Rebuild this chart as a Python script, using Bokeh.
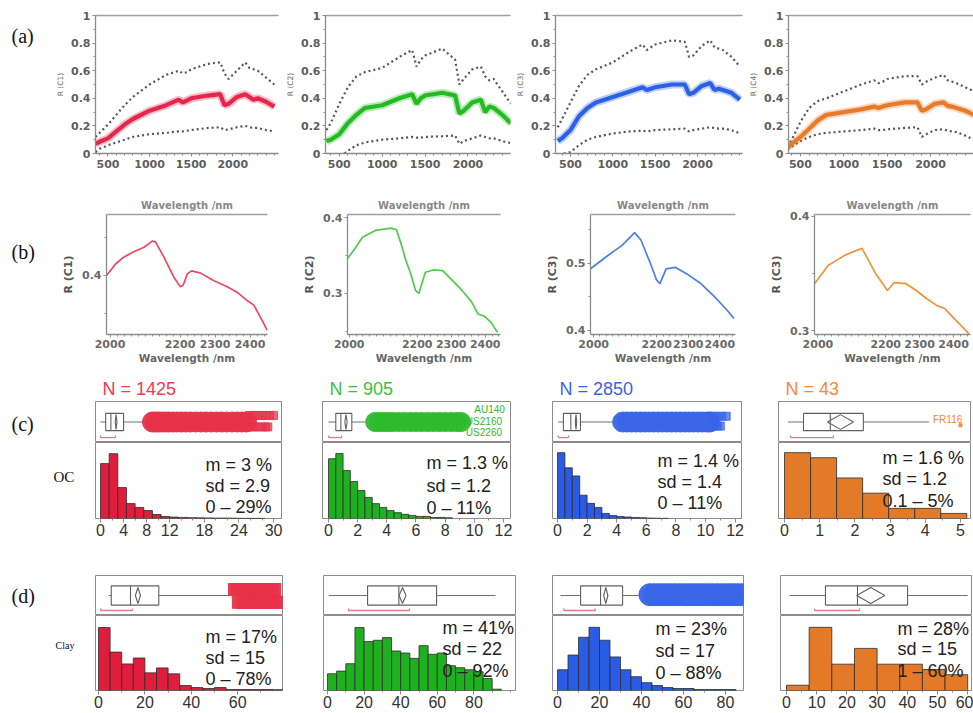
from bokeh.plotting import figure
from bokeh.layouts import row, column
from bokeh.models import Range1d, LinearAxis, FixedTicker
from bokeh.core.properties import value
from bokeh.embed import file_html
from bokeh.resources import INLINE

# ============================ DATA ============================
# (a) mean spectra (thick) with upper / lower envelopes (dotted)
wl = [350, 400, 500, 600, 700, 800, 1000, 1200, 1350, 1400, 1450, 1500, 1700, 1850,
      1900, 1950, 2050, 2150, 2200, 2250, 2300, 2400, 2500]
c1_mean = [0.07, 0.085, 0.11, 0.16, 0.21, 0.25, 0.31, 0.35, 0.39, 0.37, 0.385, 0.40, 0.42, 0.43,
           0.35, 0.36, 0.41, 0.43, 0.41, 0.39, 0.40, 0.375, 0.34]
c1_up = [0.12, 0.15, 0.21, 0.28, 0.35, 0.41, 0.50, 0.57, 0.60, 0.58, 0.59, 0.61, 0.65, 0.66,
         0.58, 0.54, 0.60, 0.66, 0.62, 0.61, 0.60, 0.55, 0.50]
c1_low = [0.01, 0.035, 0.06, 0.08, 0.10, 0.12, 0.14, 0.15, 0.16, 0.16, 0.165, 0.17, 0.185, 0.19,
          0.17, 0.175, 0.19, 0.20, 0.19, 0.185, 0.185, 0.17, 0.16]
c2_mean = [0.09, 0.10, 0.14, 0.22, 0.28, 0.33, 0.35, 0.40, 0.43, 0.36, 0.40, 0.42, 0.44, 0.42,
           0.29, 0.31, 0.37, 0.39, 0.30, 0.34, 0.33, 0.28, 0.22]
c2_up = [0.17, 0.22, 0.36, 0.48, 0.56, 0.59, 0.62, 0.70, 0.75, 0.63, 0.68, 0.71, 0.76, 0.68,
         0.50, 0.54, 0.61, 0.63, 0.56, 0.53, 0.54, 0.45, 0.36]
wl_c2_low = [560, 600, 700, 800, 1000, 1200, 1350, 1400, 1450, 1500, 1700, 1850, 1900, 1950,
             2050, 2150, 2200, 2250, 2300, 2400, 2500]
c2_low = [0.0, 0.02, 0.06, 0.08, 0.10, 0.11, 0.12, 0.115, 0.115, 0.12, 0.125, 0.13, 0.07, 0.09,
          0.11, 0.13, 0.12, 0.11, 0.11, 0.09, 0.075]
c3_mean = [0.09, 0.11, 0.17, 0.27, 0.33, 0.37, 0.41, 0.45, 0.48, 0.46, 0.47, 0.48, 0.50, 0.50,
           0.43, 0.44, 0.49, 0.51, 0.46, 0.47, 0.46, 0.44, 0.39]
c3_up = [0.19, 0.25, 0.37, 0.49, 0.57, 0.61, 0.66, 0.74, 0.79, 0.75, 0.77, 0.79, 0.82, 0.81,
         0.70, 0.71, 0.78, 0.82, 0.77, 0.76, 0.75, 0.70, 0.63]
wl_c3_low = [420, 500, 600, 700, 800, 1000, 1200, 1350, 1400, 1450, 1500, 1700, 1850, 1900,
             1950, 2050, 2150, 2200, 2250, 2300, 2400, 2500]
c3_low = [0.0, 0.01, 0.06, 0.10, 0.12, 0.145, 0.16, 0.165, 0.16, 0.165, 0.17, 0.175, 0.18, 0.16,
          0.17, 0.18, 0.19, 0.185, 0.18, 0.18, 0.17, 0.145]
c4_mean = [0.04, 0.07, 0.12, 0.18, 0.24, 0.28, 0.30, 0.32, 0.34, 0.33, 0.34, 0.35, 0.37, 0.37,
           0.31, 0.32, 0.36, 0.37, 0.345, 0.34, 0.33, 0.31, 0.28]
c4_up = [0.05, 0.10, 0.23, 0.33, 0.38, 0.40, 0.45, 0.50, 0.53, 0.51, 0.52, 0.54, 0.56, 0.56,
         0.50, 0.52, 0.55, 0.57, 0.53, 0.52, 0.51, 0.48, 0.45]
c4_low = [0.03, 0.05, 0.09, 0.12, 0.14, 0.15, 0.16, 0.17, 0.18, 0.17, 0.17, 0.175, 0.185, 0.19,
          0.12, 0.14, 0.17, 0.175, 0.165, 0.16, 0.155, 0.13, 0.10]
a_ylabels = ["R (C1)", "R (C2)", "R (C3)", "R (C4)"]
a_xticks = [500, 1000, 1500, 2000]
a_xminor = [400, 600, 700, 800, 900, 1100, 1200, 1300, 1400, 1600, 1700, 1800, 1900,
            2100, 2200, 2300, 2400, 2500]
a_yticks = [0, 0.2, 0.4, 0.6, 0.8, 1]
a_yminor = [0.1, 0.3, 0.5, 0.7, 0.9]

# (b) 1990-2450 nm detail
b1_wl = [1990, 2016, 2039, 2068, 2097, 2121, 2130, 2154, 2182, 2201, 2209, 2221, 2233, 2259,
         2297, 2335, 2363, 2392, 2411, 2430, 2449]
b1_r = [0.400, 0.415, 0.424, 0.431, 0.437, 0.445, 0.444, 0.424, 0.398, 0.385, 0.387, 0.402,
        0.406, 0.403, 0.393, 0.385, 0.378, 0.367, 0.361, 0.345, 0.328]
b2_wl = [1995, 2020, 2039, 2077, 2124, 2139, 2153, 2167, 2181, 2195, 2205, 2224, 2247, 2275,
         2304, 2332, 2360, 2379, 2398, 2417, 2436]
b2_r = [0.346, 0.361, 0.374, 0.383, 0.386, 0.384, 0.365, 0.343, 0.326, 0.304, 0.300, 0.328,
        0.331, 0.330, 0.317, 0.304, 0.289, 0.273, 0.270, 0.262, 0.249]
b3_wl = [1990, 2040, 2090, 2130, 2150, 2180, 2200, 2210, 2230, 2260, 2300, 2340, 2380, 2420, 2445]
b3_r = [0.492, 0.510, 0.527, 0.546, 0.535, 0.500, 0.475, 0.470, 0.492, 0.494, 0.483, 0.470,
        0.452, 0.432, 0.418]
b4_wl = [1990, 2030, 2080, 2130, 2170, 2205, 2225, 2260, 2290, 2320, 2350, 2375, 2400, 2430, 2445]
b4_r = [0.341, 0.357, 0.366, 0.372, 0.350, 0.335, 0.342, 0.341, 0.335, 0.328, 0.322, 0.319,
        0.311, 0.302, 0.297]
b_ylabels = ["R (C1)", "R (C2)", "R (C3)", "R (C3)"]
b_xticks = [2000, 2200, 2300, 2400]
b_xminor = [2020, 2040, 2060, 2080, 2100, 2120, 2140, 2160, 2180, 2220, 2240, 2260, 2280,
            2320, 2340, 2360, 2380, 2420, 2440]
b_yticks = [[0.4], [0.3, 0.4], [0.4, 0.5], [0.3, 0.4]]
b_yminor = [[0.35, 0.45], [0.25, 0.35], [0.45, 0.55], [0.35]]

# (c) OC (%) distributions
oc_N = ["N = 1425", "N = 905", "N = 2850", "N = 43"]
oc_bin_width = [1.5, 0.5, 0.5, 0.74]
oc_counts_c1 = [398, 470, 224, 108, 80, 58, 29, 14, 10, 8, 6, 5, 4, 3, 3, 2, 1, 1, 1]
oc_counts_c2 = [173, 188, 139, 107, 81, 61, 43, 32, 23, 17, 12, 9, 6, 6, 3, 3, 2]
oc_counts_c3 = [842, 648, 544, 298, 194, 142, 65, 39, 26, 19, 13, 10, 5, 3, 2]
oc_counts_c4 = [13, 12, 8, 5, 2, 2, 1]
oc_stats = [["m = 3 %", "sd = 2.9", "0 – 29%"],
            ["m = 1.3 %", "sd = 1.2", "0 – 11%"],
            ["m = 1.4 %", "sd = 1.4", "0 – 11%"],
            ["m = 1.6 %", "sd = 1.2", "0.1 – 5%"]]
oc_wlo = [0, 0, 0.05, 0.1]
oc_q1 = [0.9, 0.5, 0.4, 0.54]
oc_med = [1.8, 0.85, 0.9, 1.3]
oc_q3 = [4.0, 1.6, 1.55, 2.24]
oc_whi = [8.1, 2.5, 3.7, 4.1]
oc_mean = [2.7, 1.2, 1.25, 1.59]
oc_ci = [0.15, 0.08, 0.05, 0.37]
oc_short_lo = [0, 0, 0.05, 0.17]
oc_short_hi = [2.6, 0.9, 0.75, 1.39]
oc_out_c1 = [9.0, 9.5, 10.0, 10.6, 11.2, 11.8, 12.5, 13.2, 14.0, 14.8, 15.6, 16.5, 17.4, 18.3,
             19.2, 20.1, 21.0, 21.9, 22.8, 23.7, 24.5, 25.3]
oc_out_c1_tail_hi = [25.8, 26.5, 27.2, 27.9, 28.6, 29.3, 30.0]
oc_out_c1_tail_lo = [25.8, 26.5, 27.2, 27.9, 28.6, 29.0]
oc_out_c2 = [3.2, 3.5, 3.8, 4.1, 4.4, 4.8, 5.2, 5.6, 6.0, 6.4, 6.8, 7.2, 7.6, 8.0, 8.4, 8.8, 9.1]
oc_out_c2_ids = ["AU140", "US2160", "US2260"]
oc_out_c3 = [4.4, 4.7, 5.0, 5.3, 5.6, 5.9, 6.2, 6.5, 6.8, 7.1, 7.4, 7.7, 8.0, 8.3, 8.6, 8.9,
             9.2, 9.5, 9.8, 10.1, 10.3]
oc_out_c3_tail_hi = [10.5, 10.8, 11.1, 11.4]
oc_out_c3_tail_lo = [10.5, 10.8, 11.0]
oc_out_c4_ids = ["FR116"]
oc_out_c4 = [5.0]
oc_ticks = [[0, 4, 8, 12, 18, 24, 30], [0, 2, 4, 6, 8, 10, 12], [0, 2, 4, 6, 8, 10, 12],
            [0, 1, 2, 3, 4, 5]]
oc_minor = [[2, 6, 10, 14, 16, 20, 22, 26, 28], [1, 3, 5, 7, 9, 11], [1, 3, 5, 7, 9, 11],
            [0.5, 1.5, 2.5, 3.5, 4.5]]

# (d) Clay (%) distributions
clay_bin_width = [5, 5, 5, 7.5]
clay_counts_c1 = [382, 233, 161, 197, 107, 137, 101, 30, 18, 12, 18, 6, 6, 6, 6, 5]
clay_counts_c2 = [25, 29, 40, 94, 73, 75, 79, 59, 56, 48, 67, 54, 56, 37, 34, 31, 28, 18, 2]
clay_counts_c3 = [188, 321, 482, 572, 455, 304, 188, 125, 71, 45, 27, 18, 18, 9, 9, 9, 9]
clay_counts_c4 = [1, 12, 5, 8, 5, 5, 4, 3]
clay_stats = [["m = 17%", "sd = 15", "0 – 78%"],
              ["m = 41%", "sd = 22", "0 – 92%"],
              ["m = 23%", "sd = 17", "0 – 88%"],
              ["m = 28%", "sd = 15", "1 – 60%"]]
clay_wlo = [4.4, 0.7, 1.4, 1.0]
clay_q1 = [5.5, 21.9, 11, 12.9]
clay_med = [13.8, 39.0, 20.5, 23.5]
clay_q3 = [26, 59.6, 31, 40.1]
clay_whi = [56.8, 91.8, 39.5, 60]
clay_mean = [17, 41, 23, 27.9]
clay_ci = [1.1, 1.9, 1.0, 4.65]
clay_short_lo = [0.9, 11.4, 3, 9.3]
clay_short_hi = [14.6, 44.8, 18, 24.2]
clay_out_c1_top = [58.6, 60.0, 61.5, 63.0, 64.5, 66.0, 67.5, 69.0, 70.5, 72.0, 73.5, 75.0, 76.0]
clay_out_c1_bot = [60.3, 62.0, 63.5, 65.0, 66.5, 68.0, 69.5, 71.0, 72.5, 74.0, 75.5, 77.0, 78.0]
clay_out_c3 = [44, 46, 48, 50, 52, 54, 56, 58, 60, 62, 64, 66, 68, 70, 72, 74, 76, 78, 80, 82,
               84, 86, 88]
clay_ticks = [[0, 20, 40, 60, 80], [0, 20, 40, 60, 80], [0, 20, 40, 60, 80],
              [0, 10, 20, 30, 40, 50, 60]]
clay_minor = [[10, 30, 50, 70], [10, 30, 50, 70, 90, 100], [10, 30, 50, 70],
              [5, 15, 25, 35, 45, 55]]

# ============================ STYLE / LAYOUT ============================
TICKF = "DejaVu Sans"
SANS = "Liberation Sans"
SERIF = "Liberation Serif"
AX = "#8c8c8c"
COL_LINE = ["#e6264b", "#22bb22", "#2c60e6", "#e97a2a"]
COL_THIN = ["#ec4862", "#4ccc4c", "#4d7ef0", "#ef933d"]
COL_BAR = ["#e01e3c", "#1eb01e", "#2a5be4", "#e37a27"]
COL_TITLE = ["#ee3a52", "#3dbf3d", "#3e5fe8", "#f38a3a"]
COL_OUT = ["#e8334a", "#2dbb2d", "#3a66e8", "#f08a3c"]


def base(w, h, bl, br, bt, bb, xr, yr, xloc=None, yloc=None, title=None):
    p = figure(width=w, height=h, x_range=xr, y_range=yr, title=title,
               min_border_left=bl, min_border_right=br, min_border_top=bt, min_border_bottom=bb,
               toolbar_location=None, output_backend="svg",
               x_axis_location=xloc, y_axis_location=yloc)
    p.xgrid.visible = False
    p.ygrid.visible = False
    p.outline_line_color = None
    p.background_fill_color = "white"
    p.border_fill_color = "white"
    return p


def style_axis(ax, size, font, color, bold=False, tick_out=3, minor_out=2, standoff=3):
    ax.axis_line_color = AX
    ax.axis_line_width = 1.3
    ax.major_tick_line_color = AX
    ax.minor_tick_line_color = AX
    ax.major_tick_out = tick_out
    ax.major_tick_in = 0
    ax.minor_tick_out = minor_out
    ax.minor_tick_in = 0
    ax.major_label_text_font = font
    ax.major_label_text_font_size = size
    ax.major_label_text_color = color
    ax.major_label_text_font_style = "bold" if bold else "normal"
    ax.major_label_standoff = standoff


def label_fig(w, h, items):
    p = base(w, h, 0, 0, 0, 0, Range1d(0, w), Range1d(h, 0))
    for (txt, x, y, size) in items:
        p.text(x=[x], y=[y], text=[txt], text_font=value(SERIF), text_font_size=size,
               text_baseline="middle", text_align="left", text_color="#111111")
    return p


# ---------- band (a) ----------
A_TOP, A_FT, A_FB, A_BOT = 3, 15, 153, 190
a_bounds = [48, 283, 513, 745, 973]
a_frames = [(95, 278), (323, 510), (555, 742), (788, 973)]
a_xr = [(350, 2550), (339, 2496), (323, 2531), (362, 2496)]
a_series = [(wl, c1_mean, wl, c1_up, wl, c1_low),
            (wl, c2_mean, wl, c2_up, wl_c2_low, c2_low),
            (wl, c3_mean, wl, c3_up, wl_c3_low, c3_low),
            (wl, c4_mean, wl, c4_up, wl, c4_low)]


def a_panel(i):
    S0, S1 = a_bounds[i], a_bounds[i + 1]
    fl, fr = a_frames[i]
    p = base(S1 - S0, A_BOT - A_TOP, fl - S0, S1 - fr, A_FT - A_TOP, A_BOT - A_FB,
             Range1d(*a_xr[i]), Range1d(0, 1), "below", "left")
    xa, ya = p.xaxis[0], p.yaxis[0]
    style_axis(xa, "11px", TICKF, "#5e5e5e", True, 3, 2, 3)
    style_axis(ya, "11px", TICKF, "#5e5e5e", True, 3, 2, 2)
    xa.ticker = FixedTicker(ticks=a_xticks, minor_ticks=a_xminor)
    ya.ticker = FixedTicker(ticks=a_yticks, minor_ticks=a_yminor)
    ya.major_label_overrides = {0: "0", 1: "1"}
    ya.axis_label = a_ylabels[i]
    ya.axis_label_text_font = TICKF
    ya.axis_label_text_font_size = "7.5px"
    ya.axis_label_text_font_style = "normal"
    ya.axis_label_text_color = "#666666"
    ya.axis_label_standoff = 3
    top = LinearAxis(ticker=FixedTicker(ticks=[]), axis_line_color="#a0a0a0", axis_line_width=1.5,
                     major_tick_out=0, major_tick_in=0, minor_tick_out=0, major_label_standoff=0)
    p.add_layout(top, "above")
    mw, mv, uw, uv, lw, lv = a_series[i]
    p.line(uw, uv, line_color="#555555", line_width=2.2, line_dash="2 3")
    p.line(lw, lv, line_color="#555555", line_width=2.2, line_dash="2 3")
    p.line(mw, mv, line_color=COL_LINE[i], line_width=8, line_alpha=0.3)
    p.line(mw, mv, line_color=COL_LINE[i], line_width=4.2)
    return p


# ---------- band (b) ----------
B_TOP, B_FT, B_FB, B_BOT = 190, 214, 334, 370
b_bounds = [48, 300, 530, 760, 973]
b_frames = [(106, 267), (341, 500), (590, 735), (814, 970)]
b_xr = [(1990, 2450), (1995, 2445), (1990, 2450), (1990, 2450)]
b_yr = [(0.3224, 0.480), (0.246, 0.404), (0.394, 0.573), (0.2965, 0.4016)]
b_series = [(b1_wl, b1_r), (b2_wl, b2_r), (b3_wl, b3_r), (b4_wl, b4_r)]


def b_panel(i):
    S0, S1 = b_bounds[i], b_bounds[i + 1]
    fl, fr = b_frames[i]
    p = base(S1 - S0, B_BOT - B_TOP, fl - S0, S1 - fr, B_FT - B_TOP, B_BOT - B_FB,
             Range1d(*b_xr[i]), Range1d(*b_yr[i]), "below", "left")
    xa, ya = p.xaxis[0], p.yaxis[0]
    style_axis(xa, "11px", TICKF, "#6a6a6a", True, 3, 2, 2)
    style_axis(ya, "11px", TICKF, "#6a6a6a", True, 3, 2, 2)
    xa.ticker = FixedTicker(ticks=b_xticks, minor_ticks=b_xminor)
    ya.ticker = FixedTicker(ticks=b_yticks[i], minor_ticks=b_yminor[i])
    xa.axis_label = "Wavelength /nm"
    xa.axis_label_text_font = TICKF
    xa.axis_label_text_font_size = "10.5px"
    xa.axis_label_text_font_style = "bold"
    xa.axis_label_text_color = "#666666"
    xa.axis_label_standoff = 1
    ya.axis_label = b_ylabels[i]
    ya.axis_label_text_font = TICKF
    ya.axis_label_text_font_size = "11px"
    ya.axis_label_text_font_style = "bold"
    ya.axis_label_text_color = "#555555"
    ya.axis_label_standoff = 4
    top = LinearAxis(ticker=FixedTicker(ticks=[]), axis_line_color="#a0a0a0", axis_line_width=1.5,
                     major_tick_out=0, major_tick_in=0, minor_tick_out=0, major_label_standoff=0,
                     axis_label="Wavelength /nm", axis_label_standoff=4,
                     axis_label_text_font=TICKF, axis_label_text_font_size="10px",
                     axis_label_text_font_style="bold", axis_label_text_color="#888888")
    p.add_layout(top, "above")
    wv, rv = b_series[i]
    p.line(wv, rv, line_color=COL_THIN[i], line_width=1.7)
    return p


# ---------- bands (c) and (d) ----------
band_c = dict(top=370, ft=401, mid=442, fb=518, bot=545,
              bounds=[90, 300, 530, 760, 973],
              frames=[(95, 281), (322, 510), (552, 741), (778, 970)],
              p0=[100, 328, 557, 784], scale=[5.77, 14.58, 14.8, 35.2],
              bh=0.21, dh=0.18, sy=0.12,
              stat_x=[205, 426, 657, 882],
              stat_y=[[464, 485, 506], [462, 485, 507], [460, 481, 502], [457, 478, 500]])
band_d = dict(top=545, ft=575, mid=615, fb=690, bot=713,
              bounds=[90, 300, 530, 760, 973],
              frames=[(95, 282), (323, 515), (552, 743), (780, 971)],
              p0=[98, 327, 557, 786], scale=[2.32, 1.83, 2.1, 3.02],
              bh=0.24, dh=0.2, sy=0.125,
              stat_x=[205, 442, 655, 897],
              stat_y=[[636, 657, 678], [627, 648, 670], [628, 650, 672], [628, 648, 670]])


def dist_panel(b, i, counts, bw, ytop, ticks, minor, stats, bx, title, outs, ids):
    S0, S1 = b["bounds"][i], b["bounds"][i + 1]
    fl, fr = b["frames"][i]
    p0, s = b["p0"][i], b["scale"][i]
    x0, x1 = (fl - p0) / s, (fr - p0) / s
    xr = Range1d(x0, x1)
    # --- box plot strip ---
    bf = base(S1 - S0, b["mid"] - b["top"], fl - S0, S1 - fr, b["ft"] - b["top"], 0,
              xr, Range1d(0, 1), title=title)
    bf.outline_line_color = AX
    if title:
        bf.title.text_font = SANS
        bf.title.text_font_size = "18px"
        bf.title.text_font_style = "normal"
        bf.title.text_color = COL_TITLE[i]
        bf.title.align = "left"
        bf.title.offset = 7
        bf.title.standoff = 5
    wlo, q1, med, q3, whi, mean, ci, slo, shi = bx
    bh, dh, sy = b["bh"], b["dh"], b["sy"]
    bf.segment(x0=[wlo], y0=[0.5], x1=[whi], y1=[0.5], line_color="#707070", line_width=1.1)
    for (vals, yv, size, marker, alpha) in outs:
        bf.scatter(x=vals, y=[yv] * len(vals), size=size, marker=marker,
                   fill_color=COL_OUT[i], line_color=COL_OUT[i], fill_alpha=alpha, line_alpha=alpha)
    for (txt, xv, yv, align) in ids:
        bf.text(x=[xv], y=[yv], text=[txt], text_font=value(SANS), text_font_size="10px",
                text_color=COL_OUT[i], text_align=align, text_baseline="middle")
    bf.quad(left=[q1], right=[q3], bottom=[0.5 - bh], top=[0.5 + bh],
            fill_color="white", line_color="#606060", line_width=1.1)
    bf.segment(x0=[med], y0=[0.5 - bh], x1=[med], y1=[0.5 + bh], line_color="#606060", line_width=1.1)
    bf.patch(x=[mean - ci, mean, mean + ci, mean], y=[0.5, 0.5 + dh, 0.5, 0.5 - dh],
             fill_color=None, line_color="#606060", line_width=1.1)
    bf.segment(x0=[slo, slo, shi], y0=[sy, sy, sy], x1=[shi, slo, shi], y1=[sy, sy + 0.05, sy + 0.05],
               line_color="#e8788a", line_width=1.3)
    # --- histogram ---
    hf = base(S1 - S0, b["bot"] - b["mid"], fl - S0, S1 - fr, 0, b["bot"] - b["fb"],
              xr, Range1d(0, ytop), "below", None)
    hf.outline_line_color = AX
    xa = hf.xaxis[0]
    style_axis(xa, "16px", SANS, "#333333", False, 4, 2, 1)
    xa.axis_line_color = None
    xa.ticker = FixedTicker(ticks=ticks, minor_ticks=minor)
    lefts = [k * bw for k in range(len(counts))]
    rights = [l + bw for l in lefts]
    hf.quad(left=lefts, right=rights, bottom=[0] * len(counts), top=counts,
            fill_color=COL_BAR[i], line_color="#2d2d2d", line_width=0.8)
    fh = b["fb"] - b["mid"]
    tx = x0 + (b["stat_x"][i] - fl) * (x1 - x0) / (fr - fl)
    ty = [ytop * (b["fb"] - py) / fh for py in b["stat_y"][i]]
    hf.text(x=[tx] * 3, y=ty, text=stats, text_font=value(SANS), text_font_size="18px",
            text_color="#222222", text_align="left", text_baseline="middle")
    return column(bf, hf)


# ---------- assemble ----------
purple = base(973, 3, 0, 0, 0, 0, Range1d(0, 1), Range1d(0, 1))
purple.background_fill_color = "#8458d8"
purple.border_fill_color = "#8458d8"

lab_a = label_fig(48, A_BOT - A_TOP, [("(a)", 11, 28, "20px")])
lab_b = label_fig(48, B_BOT - B_TOP, [("(b)", 11, 56, "20px")])
lab_c = label_fig(90, 175, [("(c)", 11, 53, "20px"), ("OC", 53, 106, "15px")])
lab_d = label_fig(90, 168, [("(d)", 11, 50, "20px"), ("Clay", 55, 100, "10px")])

row_a = row(lab_a, *[a_panel(i) for i in range(4)])
row_b = row(lab_b, *[b_panel(i) for i in range(4)])

oc_counts = [oc_counts_c1, oc_counts_c2, oc_counts_c3, oc_counts_c4]
oc_ytop = [551, 220, 972, 15]
oc_outs = [[(oc_out_c1, 0.5, 20, "circle", 0.95), (oc_out_c1_tail_hi, 0.66, 8, "square", 0.75),
            (oc_out_c1_tail_lo, 0.38, 8, "square", 0.75)],
           [(oc_out_c2, 0.5, 19, "circle", 0.95)],
           [(oc_out_c3, 0.5, 20, "circle", 0.95), (oc_out_c3_tail_hi, 0.64, 8, "square", 0.75),
            (oc_out_c3_tail_lo, 0.4, 8, "square", 0.75)],
           [(oc_out_c4, 0.42, 3, "square", 1.0)]]
oc_ids = [[], [(oc_out_c2_ids[0], 12.1, 0.8, "right"), (oc_out_c2_ids[1], 11.9, 0.51, "right"),
               (oc_out_c2_ids[2], 11.9, 0.24, "right")],
          [], [(oc_out_c4_ids[0], 5.05, 0.55, "right")]]
row_c = row(lab_c, *[dist_panel(band_c, i, oc_counts[i], oc_bin_width[i], oc_ytop[i],
                                oc_ticks[i], oc_minor[i], oc_stats[i],
                                (oc_wlo[i], oc_q1[i], oc_med[i], oc_q3[i], oc_whi[i], oc_mean[i],
                                 oc_ci[i], oc_short_lo[i], oc_short_hi[i]),
                                oc_N[i], oc_outs[i], oc_ids[i]) for i in range(4)])

clay_counts = [clay_counts_c1, clay_counts_c2, clay_counts_c3, clay_counts_c4]
clay_ytop = [455, 112, 679, 14.25]
clay_outs = [[(clay_out_c1_top, 0.65, 12, "square", 0.95), (clay_out_c1_bot, 0.33, 12, "square", 0.95)],
             [], [(clay_out_c3, 0.52, 22, "circle", 0.95)], []]
row_d = row(lab_d, *[dist_panel(band_d, i, clay_counts[i], clay_bin_width[i], clay_ytop[i],
                                clay_ticks[i], clay_minor[i], clay_stats[i],
                                (clay_wlo[i], clay_q1[i], clay_med[i], clay_q3[i], clay_whi[i],
                                 clay_mean[i], clay_ci[i], clay_short_lo[i], clay_short_hi[i]),
                                None, clay_outs[i], []) for i in range(4)])

layout = column(purple, row_a, row_b, row_c, row_d)
open("out.html", "w").write(file_html(layout, INLINE))
